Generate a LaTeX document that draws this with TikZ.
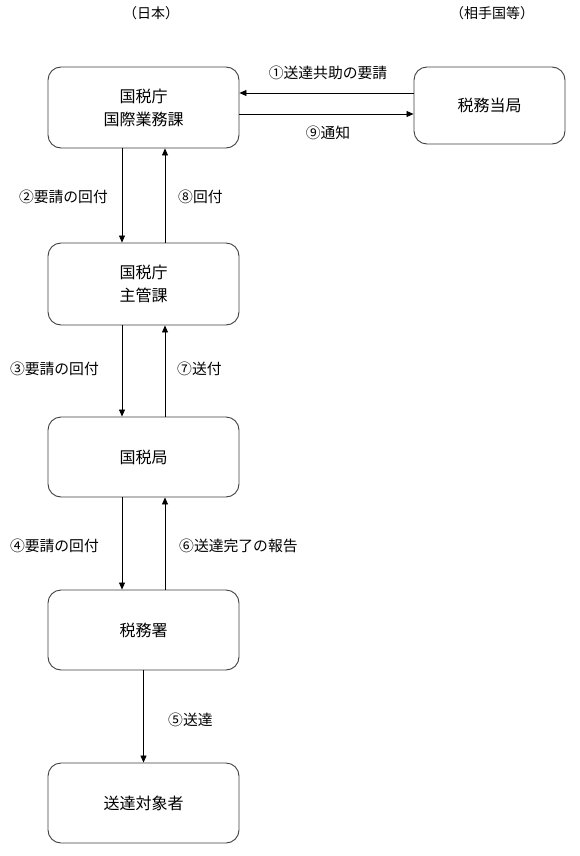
\documentclass[tikz,border=0pt]{standalone}
\usepackage{fontspec}
\newfontfamily\jp{Noto Sans CJK JP}
\usetikzlibrary{arrows.meta}
\begin{document}
\begin{tikzpicture}[x=1pt,y=-1pt,
  box/.style={draw=black!75, line width=0.9pt, rounded corners=13pt, align=center,
    font=\jp\fontsize{16}{23}\selectfont, inner sep=0pt},
  lbl/.style={font=\jp\fontsize{14.8}{17}\selectfont, inner sep=0pt},
  hdr/.style={font=\jp\fontsize{14}{16}\selectfont, inner sep=0pt},
  arr/.style={-{Triangle[length=7pt,width=6pt]}, line width=0.8pt}]
\useasboundingbox (0,0) rectangle (580,856);
\fill[white] (0,0) rectangle (580,856);
% boxes
\node[box, minimum width=191pt, minimum height=81pt] (b1) at (143.5,107.5) {国税庁\\国際業務課};
\node[box, minimum width=151pt, minimum height=77pt] (tax) at (489.5,105.5) {税務当局};
\node[box, minimum width=191pt, minimum height=82pt] (b2) at (143.5,284) {国税庁\\主管課};
\node[box, minimum width=191pt, minimum height=80pt] (b3) at (143.5,457) {国税局};
\node[box, minimum width=191pt, minimum height=80pt] (b4) at (143.5,630) {税務署};
\node[box, minimum width=191pt, minimum height=80pt] (b5) at (143.5,803) {送達対象者};
% headers
\node[hdr] (h1) at (151,13) {（日本）};
\node[hdr] (h2) at (492,13) {（相手国等）};
% helper coordinates
\coordinate (xd) at (122,0);
\coordinate (xu) at (165,0);
\coordinate (xm) at (143.5,0);
\coordinate (ya) at (0,93);
\coordinate (yb) at (0,114);
% horizontal arrows
\draw[arr] (tax.west |- ya) -- (b1.east |- ya);
\draw[arr] (b1.east |- yb) -- (tax.west |- yb);
% vertical arrows
\draw[arr] (b1.south -| xd) -- (b2.north -| xd);
\draw[arr] (b2.north -| xu) -- (b1.south -| xu);
\draw[arr] (b2.south -| xd) -- (b3.north -| xd);
\draw[arr] (b3.north -| xu) -- (b2.south -| xu);
\draw[arr] (b3.south -| xd) -- (b4.north -| xd);
\draw[arr] (b4.north -| xu) -- (b3.south -| xu);
\draw[arr] (b4.south -| xm) -- (b5.north -| xm);
% labels
\node[lbl] (l1) at (328,73) {①送達共助の要請};
\node[lbl] (l9) at (328,133) {⑨通知};
\node[lbl, anchor=east] (l2) at (108,197) {②要請の回付};
\node[lbl, anchor=west] (l8) at (178,197) {⑧回付};
\node[lbl, anchor=east] (l3) at (99,369) {③要請の回付};
\node[lbl, anchor=west] (l7) at (177,369) {⑦送付};
\node[lbl, anchor=east] (l4) at (99,546) {④要請の回付};
\node[lbl, anchor=west] (l6) at (179,546) {⑥送達完了の報告};
\node[lbl, anchor=west] (l5) at (168,720) {⑤送達};
\end{tikzpicture}
\end{document}
